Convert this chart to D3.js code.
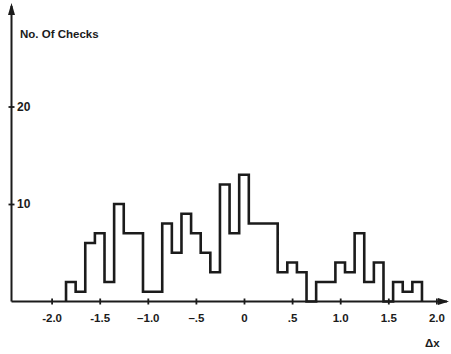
<!DOCTYPE html>
<html>
<head>
<meta charset="utf-8">
<script src="https://cdn.jsdelivr.net/npm/d3@7"></script>
<style>
  body { margin: 0; background: #fff; }
  svg { display: block; font-family: "Liberation Sans", Arial, sans-serif; }
</style>
</head>
<body>
<svg id="chart" width="451" height="354"></svg>
<script>
// bin starts (width 0.1) and number of checks per bin
const binStart = [-1.85, -1.75, -1.65, -1.55, -1.45, -1.35, -1.25, -1.15, -1.05, -0.95,
  -0.85, -0.75, -0.65, -0.55, -0.45, -0.35, -0.25, -0.15, -0.05, 0.05,
  0.15, 0.25, 0.35, 0.45, 0.55, 0.65, 0.75, 0.85, 0.95, 1.05,
  1.15, 1.25, 1.35, 1.45, 1.55, 1.65, 1.75]
const counts = [2, 1, 6, 7, 2, 10, 7, 7, 1, 1,
  8, 5, 9, 7, 5, 3, 12, 7, 13, 8,
  8, 8, 3, 4, 3, 0, 2, 2, 4, 3,
  7, 2, 4, 0, 2, 1, 2]
const binWidth = 0.1
const xTicks = [-2, -1.5, -1, -0.5, 0, 0.5, 1, 1.5, 2]
const xTickLabels = ['-2.0', '-1.5', '\u20131.0', '\u2013.5', '0', '.5', '1.0', '1.5', '2.0']
const yTicks = [10, 20]

const ink = '#1b1b1b'
const svg = d3.select('#chart')

const x = d3.scaleLinear().domain([-2, 2]).range([51.6, 436.4])
const y = d3.scaleLinear().domain([0, 20]).range([301.5, 106.5])
const x0 = 11.5 // where the y axis sits

// axis lines with arrow heads
svg.append('line')
    .attr('x1', x0).attr('x2', 447)
    .attr('y1', y(0)).attr('y2', y(0))
    .attr('stroke', ink).attr('stroke-width', 2)
svg.append('line')
    .attr('x1', x0).attr('x2', x0)
    .attr('y1', y(0)).attr('y2', 6)
    .attr('stroke', ink).attr('stroke-width', 2)
svg.append('path')
    .attr('d', `M${x0},3 L${x0 - 3.5},15 L${x0 + 3.5},15 Z`)
    .attr('fill', ink)
svg.append('path')
    .attr('d', `M449,${y(0)} L438,${y(0) - 3.5} L438,${y(0) + 3.5} Z`)
    .attr('fill', ink)

// x axis ticks and labels
let gx = svg.append('g')
    .attr('transform', `translate(0,${y(0)})`)
    .call(d3.axisBottom(x)
      .tickValues(xTicks)
      .tickFormat((d, i) => xTickLabels[i])
      .tickSize(3)
      .tickPadding(9))
gx.select('.domain').remove()
gx.selectAll('.tick line')
    .attr('y1', -3)
    .attr('stroke', ink).attr('stroke-width', 1.8)
gx.selectAll('.tick text')
    .attr('fill', ink)
    .style('font-size', '11.5px')
    .style('font-weight', 'bold')

// y axis ticks and labels
let gy = svg.append('g')
    .attr('transform', `translate(${x0},0)`)
    .call(d3.axisRight(y)
      .tickValues(yTicks)
      .tickSize(3)
      .tickPadding(2.5))
gy.select('.domain').remove()
gy.selectAll('.tick line')
    .attr('x1', -3)
    .attr('stroke', ink).attr('stroke-width', 1.8)
gy.selectAll('.tick text')
    .attr('fill', ink)
    .style('font-size', '12px')
    .style('font-weight', 'bold')

// histogram outline as one stepped path
let pts = [[binStart[0], 0]]
binStart.forEach((b, i) => pts.push([b, counts[i]]))
let last = binStart[binStart.length - 1] + binWidth
pts.push([last, counts[counts.length - 1]])
pts.push([last, 0])

svg.append('path')
    .datum(pts)
    .attr('d', d3.line()
      .x(d => x(d[0]))
      .y(d => y(d[1]))
      .curve(d3.curveStepAfter))
    .attr('fill', 'none')
    .attr('stroke', ink)
    .attr('stroke-width', 2.6)
    .attr('stroke-linejoin', 'miter')

// titles
svg.append('text')
    .attr('x', 20).attr('y', 38)
    .attr('fill', ink)
    .style('font-size', '11.5px')
    .style('font-weight', 'bold')
    .text('No. Of Checks')
svg.append('text')
    .attr('x', 425).attr('y', 347)
    .attr('fill', ink)
    .style('font-size', '11.5px')
    .style('font-weight', 'bold')
    .text('\u0394x')
</script>
</body>
</html>
